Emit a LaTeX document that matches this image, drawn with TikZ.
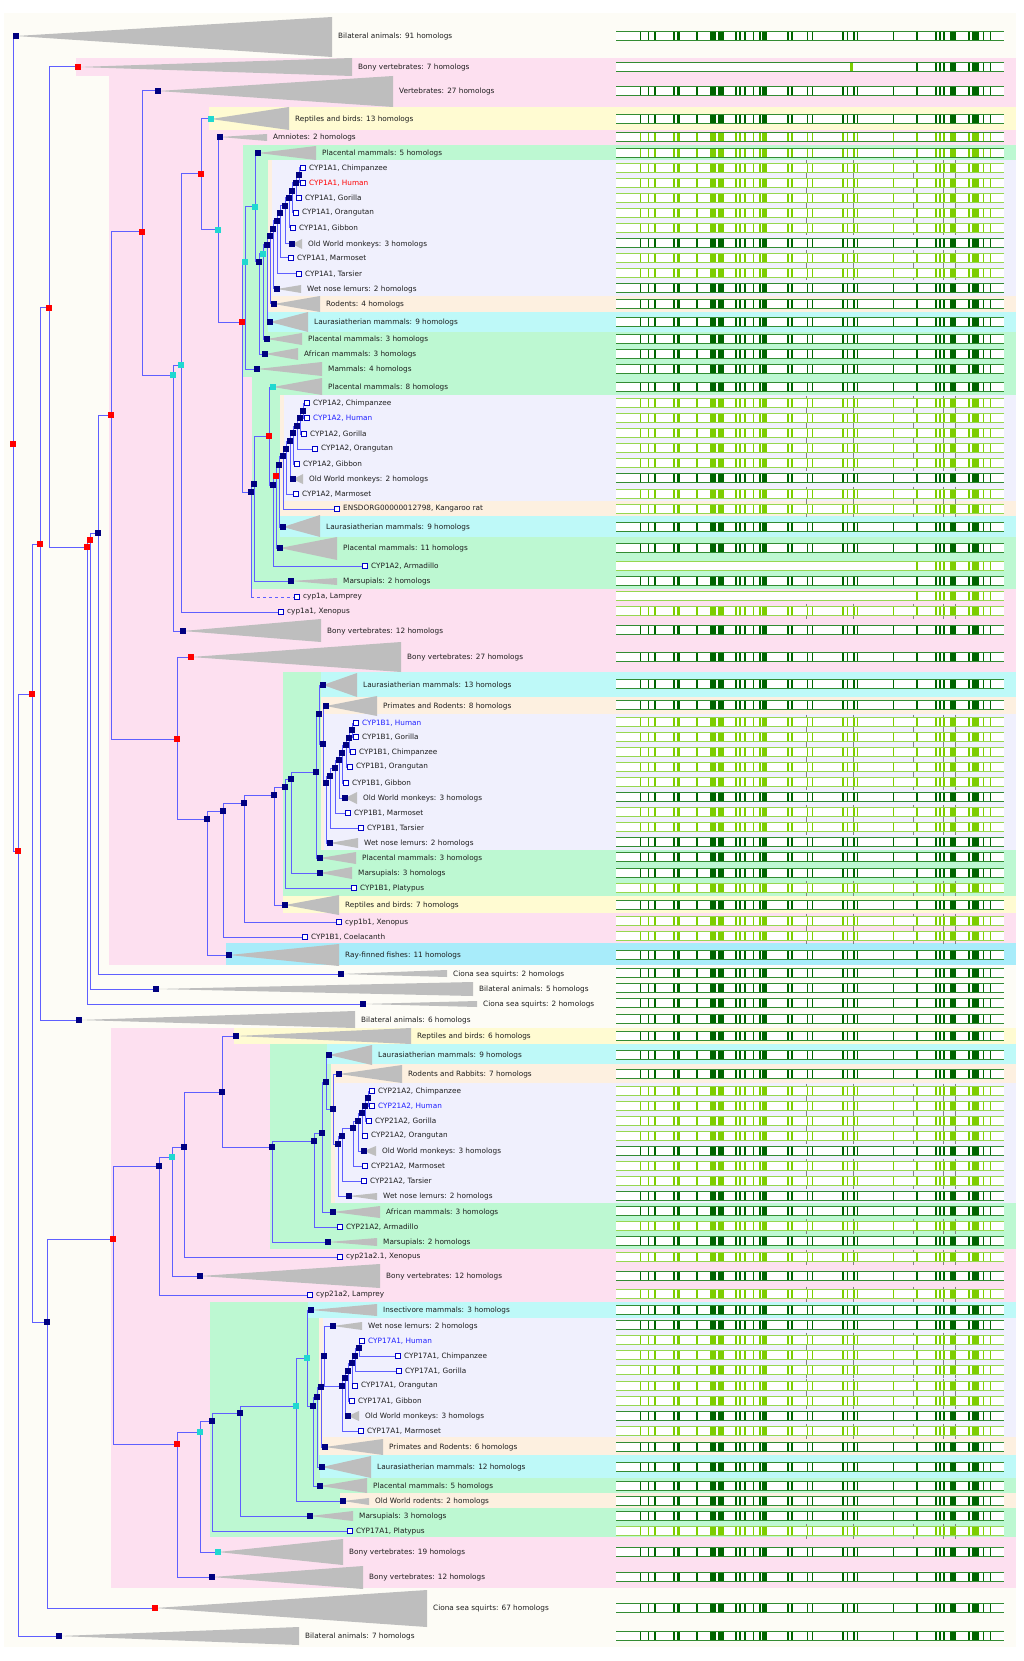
\documentclass[tikz,border=0pt]{standalone}
\usepackage{fontspec}
\setmainfont{DejaVu Sans}
\pgfdeclarelayer{back}
\pgfdeclarelayer{edges}
\pgfsetlayers{back,edges,main}
\definecolor{cream}{RGB}{253,252,246}
\definecolor{pinkbg}{RGB}{253,224,240}
\definecolor{greenbg}{RGB}{189,248,210}
\definecolor{lavbg}{RGB}{240,240,253}
\definecolor{peachbg}{RGB}{253,240,224}
\definecolor{yellowbg}{RGB}{255,251,210}
\definecolor{cyanbg}{RGB}{190,249,248}
\definecolor{raybg}{RGB}{168,236,250}
\definecolor{edgeblue}{RGB}{95,95,255}
\definecolor{navy}{RGB}{0,0,128}
\definecolor{nred}{RGB}{255,0,0}
\definecolor{ncyan}{RGB}{32,216,208}
\definecolor{leafblue}{RGB}{0,0,200}
\definecolor{trigrey}{RGB}{190,190,190}
\definecolor{labgrey}{RGB}{30,30,30}
\definecolor{hblue}{RGB}{30,30,255}
\definecolor{hred}{RGB}{255,0,0}
\definecolor{dgreen}{RGB}{0,100,0}
\definecolor{lgreen}{RGB}{125,205,0}
\definecolor{dframe}{RGB}{50,140,50}
\definecolor{lframe}{RGB}{150,215,80}
\definecolor{gaptick}{RGB}{130,130,130}
\newcommand{\myclade}[8]{%
  \fill[tri] (#2,#3) -- (#4,#5) -- (#4,#6) -- cycle;
  \node[#7] (#1) at (#2,#3) {};
  \node[lab] (#1-t) at (#4+6,#3) {#8};}
\newcommand{\myleaf}[5]{%
  \node[leaf] (#1) at (#2,#3) {};
  \node[lab,text=#5] (#1-t) at (#2+6,#3) {#4};}
\newcommand{\mynode}[4]{\node[#4] (#1) at (#2,#3) {};}
\newcommand{\myedges}[2]{\begin{pgfonlayer}{edges}\foreach \c in {#2}{\draw[edge] (#1.center) |- (\c.center);}\end{pgfonlayer}}
\def\blocks{640/1.2,648/1.2,654/1.5,673/2,677/2.5,696/2,710/6,718/6,735/1.5,739/1.5,744/1.5,753/1.2,759/1.5,762/5,787/1.5,791/1.5,807/1.2,812/1.2,842/1.5,847/1.2,853/1.5,857/1.2,893/1.2,916/1.5,935/2,939/1.5,943/1.5,950/6,968/1.5,972/7,983/1.2,990/1.2}
\def\rblocks{916/1.5,935/2,939/1.5,943/1.5,950/6,968/1.5,972/7,983/1.2,990/1.2}
\begin{document}
\begin{tikzpicture}[x=1pt,y=-1pt,
  dn/.style={rectangle,fill=navy,minimum size=5.5pt,inner sep=0pt},
  rn/.style={dn,fill=nred},
  cn/.style={dn,fill=ncyan},
  leaf/.style={rectangle,draw=leafblue,fill=white,minimum size=4.5pt,inner sep=0pt,line width=0.8pt},
  lab/.style={anchor=west,inner sep=0pt,font=\fontsize{7.3}{8}\selectfont,text=labgrey},
  edge/.style={draw=edgeblue,line width=1.0pt},
  tri/.style={fill=trigrey}]
\useasboundingbox (0,0) rectangle (1024,1661);
% ---------- backgrounds ----------
\begin{pgfonlayer}{back}
\fill[white] (0,0) rectangle (1024,1661);
\fill[cream] (4,13) rectangle (1016,1647);
\fill[pinkbg] (76,58) rectangle (1016,76);
\fill[pinkbg] (109,76) rectangle (1016,965);
\fill[yellowbg] (209,107) rectangle (1016,130);
\fill[greenbg] (243,145) rectangle (1016,377);
\fill[peachbg] (268,160) rectangle (1016,312);
\fill[lavbg] (272,160) rectangle (1016,296);
\fill[cyanbg] (268,312) rectangle (1016,332);
\fill[greenbg] (252,377) rectangle (1016,589);
\fill[peachbg] (280,395) rectangle (1016,516);
\fill[lavbg] (284,395) rectangle (1016,501);
\fill[cyanbg] (280,516) rectangle (1016,537);
\fill[greenbg] (283,672) rectangle (1016,896);
\fill[cyanbg] (321,672) rectangle (1016,697);
\fill[peachbg] (321,697) rectangle (1016,850);
\fill[lavbg] (324,714) rectangle (1016,850);
\fill[yellowbg] (283,896) rectangle (1016,913);
\fill[raybg] (226,943) rectangle (1016,965);
\fill[pinkbg] (111,1028) rectangle (1016,1588);
\fill[yellowbg] (234,1028) rectangle (1016,1044);
\fill[greenbg] (270,1044) rectangle (1016,1249);
\fill[cyanbg] (327,1044) rectangle (1016,1064);
\fill[peachbg] (331,1064) rectangle (1016,1203);
\fill[lavbg] (335,1083) rectangle (1016,1203);
\fill[greenbg] (210,1302) rectangle (1016,1537);
\fill[cyanbg] (308,1302) rectangle (1016,1318);
\fill[peachbg] (319,1318) rectangle (1016,1455);
\fill[lavbg] (323,1318) rectangle (1016,1437);
\fill[cyanbg] (320,1455) rectangle (1016,1478);
\fill[peachbg] (340,1493) rectangle (1016,1508);
% ---------- alignment ----------
\foreach \yy in {168,183,198,213,228,258,273,403,418,433,448,463,494,509,611,722,737,752,767,782,812,827,888,921,936,1091,1106,1121,1136,1166,1181,1226,1257,1294,1340,1355,1370,1386,1401,1431,1531}{
  \foreach \gx in {806,853,913,943,955}{\draw[gaptick,line width=0.6pt] (\gx,\yy-7.5) -- (\gx,\yy+7.5);}
  \fill[white] (616,\yy-4.5) rectangle (1004,\yy+4.5);
  \foreach \bx/\bw in \blocks {\fill[lgreen] (\bx,\yy-4.5) rectangle (\bx+\bw,\yy+4.5);}
  \draw[lframe,line width=0.9pt] (616,\yy-4.5) -- (1004,\yy-4.5) (616,\yy+4.5) -- (1004,\yy+4.5);
}
\foreach \yy in {566,596}{
  \fill[white] (616,\yy-4.5) rectangle (1004,\yy+4.5);
  \foreach \bx/\bw in \rblocks {\fill[lgreen] (\bx,\yy-4.5) rectangle (\bx+\bw,\yy+4.5);}
  \draw[lframe,line width=0.9pt] (616,\yy-4.5) -- (1004,\yy-4.5) (616,\yy+4.5) -- (1004,\yy+4.5);
}
\foreach \yy in {36,91,119,243,288,304,322,339,354,369,387,478,527,548,581,630,657,684,705,797,842,857,873,905,955,973,988,1003,1019,1036,1055,1074,1151,1196,1211,1241,1276,1310,1325,1416,1447,1467,1486,1501,1516,1552,1577,1608,1636}{
  \fill[white] (616,\yy-4.5) rectangle (1004,\yy+4.5);
  \foreach \bx/\bw in \blocks {\fill[dgreen] (\bx,\yy-4.5) rectangle (\bx+\bw,\yy+4.5);}
  \draw[dframe,line width=0.9pt] (616,\yy-4.5) -- (1004,\yy-4.5) (616,\yy+4.5) -- (1004,\yy+4.5);
}
\foreach \yy in {137,153}{
  \fill[white] (616,\yy-4.5) rectangle (1004,\yy+4.5);
  \foreach \bx/\bw in \blocks {\fill[lgreen] (\bx,\yy-4.5) rectangle (\bx+\bw,\yy+4.5);}
  \draw[dframe,line width=0.9pt] (616,\yy-4.5) -- (1004,\yy-4.5) (616,\yy+4.5) -- (1004,\yy+4.5);
}
\fill[white] (616,62.5) rectangle (1004,71.5);
\fill[lgreen] (850,62.5) rectangle (853,71.5);
\foreach \bx/\bw in \rblocks {\fill[dgreen] (\bx,62.5) rectangle (\bx+\bw,71.5);}
\draw[dframe,line width=0.9pt] (616,62.5) -- (1004,62.5) (616,71.5) -- (1004,71.5);
\end{pgfonlayer}
% ---------- collapsed clades ----------
\myclade{bil91}{16}{36}{332}{17}{57}{dn}{Bilateral animals: 91 homologs}
\myclade{bony7}{78}{67}{352}{58}{76}{rn}{Bony vertebrates: 7 homologs}
\myclade{vert27}{158}{91}{393}{76}{107}{dn}{Vertebrates: 27 homologs}
\myclade{rep13}{211}{119}{289}{107}{130}{cn}{Reptiles and birds: 13 homologs}
\myclade{amn2}{220}{137}{267}{134}{141}{dn}{Amniotes: 2 homologs}
\myclade{plac5}{258}{153}{316}{146}{160}{dn}{Placental mammals: 5 homologs}
\myclade{owm1}{292}{244}{302}{239}{249}{dn}{Old World monkeys: 3 homologs}
\myclade{wet1}{277}{289}{301}{285}{293}{dn}{Wet nose lemurs: 2 homologs}
\myclade{rod4}{274}{304}{320}{296}{312}{dn}{Rodents: 4 homologs}
\myclade{laura9}{270}{322}{308}{312}{332}{dn}{Laurasiatherian mammals: 9 homologs}
\myclade{plac3}{267}{339}{302}{333}{345}{dn}{Placental mammals: 3 homologs}
\myclade{afr3}{265}{354}{298}{348}{360}{dn}{African mammals: 3 homologs}
\myclade{mam4}{257}{369}{322}{362}{376}{dn}{Mammals: 4 homologs}
\myclade{plac8}{273}{387}{322}{378}{395}{cn}{Placental mammals: 8 homologs}
\myclade{owm2}{293}{479}{303}{474}{484}{dn}{Old World monkeys: 2 homologs}
\myclade{laura9b}{283}{527}{320}{515}{537}{dn}{Laurasiatherian mammals: 9 homologs}
\myclade{plac11}{280}{548}{337}{537}{560}{dn}{Placental mammals: 11 homologs}
\myclade{mars2}{291}{581}{337}{578}{585}{dn}{Marsupials: 2 homologs}
\myclade{bony12}{183}{631}{321}{619}{642}{dn}{Bony vertebrates: 12 homologs}
\myclade{bony27}{191}{657}{401}{642}{672}{rn}{Bony vertebrates: 27 homologs}
\myclade{laura13}{323}{685}{357}{673}{697}{dn}{Laurasiatherian mammals: 13 homologs}
\myclade{pr8}{326}{706}{377}{696}{716}{dn}{Primates and Rodents: 8 homologs}
\myclade{owm3}{345}{798}{357}{792}{804}{dn}{Old World monkeys: 3 homologs}
\myclade{wet2}{330}{843}{358}{838}{848}{dn}{Wet nose lemurs: 2 homologs}
\myclade{plac3b}{320}{858}{356}{852}{864}{dn}{Placental mammals: 3 homologs}
\myclade{mars3}{320}{873}{352}{867}{879}{dn}{Marsupials: 3 homologs}
\myclade{rep7}{285}{905}{339}{895}{915}{dn}{Reptiles and birds: 7 homologs}
\myclade{ray11}{229}{955}{339}{944}{966}{dn}{Ray-finned fishes: 11 homologs}
\myclade{cio2a}{341}{974}{447}{970}{977}{dn}{Ciona sea squirts: 2 homologs}
\myclade{bil5}{156}{989}{473}{982}{996}{dn}{Bilateral animals: 5 homologs}
\myclade{cio2b}{363}{1004}{477}{1001}{1007}{dn}{Ciona sea squirts: 2 homologs}
\myclade{bil6}{79}{1020}{355}{1011}{1028}{dn}{Bilateral animals: 6 homologs}
\myclade{rep6}{236}{1036}{411}{1028}{1044}{dn}{Reptiles and birds: 6 homologs}
\myclade{laura9c}{329}{1055}{372}{1045}{1065}{dn}{Laurasiatherian mammals: 9 homologs}
\myclade{rr7}{339}{1074}{402}{1065}{1083}{dn}{Rodents and Rabbits: 7 homologs}
\myclade{owm4}{364}{1151}{376}{1146}{1156}{dn}{Old World monkeys: 3 homologs}
\myclade{wet3}{349}{1196}{377}{1193}{1200}{dn}{Wet nose lemurs: 2 homologs}
\myclade{afr3b}{333}{1212}{380}{1206}{1218}{dn}{African mammals: 3 homologs}
\myclade{mars2b}{328}{1242}{377}{1238}{1246}{dn}{Marsupials: 2 homologs}
\myclade{bony12b}{200}{1276}{380}{1264}{1288}{dn}{Bony vertebrates: 12 homologs}
\myclade{ins3}{311}{1310}{377}{1304}{1316}{dn}{Insectivore mammals: 3 homologs}
\myclade{wet4}{333}{1326}{362}{1322}{1330}{dn}{Wet nose lemurs: 2 homologs}
\myclade{owm5}{348}{1416}{359}{1411}{1421}{dn}{Old World monkeys: 3 homologs}
\myclade{pr6}{325}{1447}{383}{1439}{1455}{dn}{Primates and Rodents: 6 homologs}
\myclade{laura12}{322}{1467}{371}{1456}{1478}{dn}{Laurasiatherian mammals: 12 homologs}
\myclade{plac5b}{320}{1486}{367}{1478}{1493}{dn}{Placental mammals: 5 homologs}
\myclade{owr2}{343}{1501}{369}{1498}{1505}{dn}{Old World rodents: 2 homologs}
\myclade{mars3b}{310}{1516}{353}{1511}{1521}{dn}{Marsupials: 3 homologs}
\myclade{bony19}{218}{1552}{343}{1539}{1565}{cn}{Bony vertebrates: 19 homologs}
\myclade{bony12c}{212}{1577}{363}{1566}{1589}{dn}{Bony vertebrates: 12 homologs}
\myclade{cio67}{155}{1608}{427}{1590}{1627}{rn}{Ciona sea squirts: 67 homologs}
\myclade{bil7}{59}{1636}{299}{1627}{1645}{dn}{Bilateral animals: 7 homologs}
% ---------- leaves ----------
\myleaf{chi1}{303}{168}{CYP1A1, Chimpanzee}{labgrey}
\myleaf{hum1}{303}{183}{CYP1A1, Human}{hred}
\myleaf{gor1}{299}{198}{CYP1A1, Gorilla}{labgrey}
\myleaf{ora1}{296}{213}{CYP1A1, Orangutan}{labgrey}
\myleaf{gib1}{293}{228}{CYP1A1, Gibbon}{labgrey}
\myleaf{mar1}{291}{258}{CYP1A1, Marmoset}{labgrey}
\myleaf{tar1}{299}{274}{CYP1A1, Tarsier}{labgrey}
\myleaf{chi2}{307}{403}{CYP1A2, Chimpanzee}{labgrey}
\myleaf{hum2}{307}{418}{CYP1A2, Human}{hblue}
\myleaf{gor2}{304}{434}{CYP1A2, Gorilla}{labgrey}
\myleaf{ora2}{315}{449}{CYP1A2, Orangutan}{labgrey}
\myleaf{gib2}{297}{464}{CYP1A2, Gibbon}{labgrey}
\myleaf{mar2}{296}{494}{CYP1A2, Marmoset}{labgrey}
\myleaf{kang}{337}{509}{ENSDORG00000012798, Kangaroo rat}{labgrey}
\myleaf{arm1}{365}{566}{CYP1A2, Armadillo}{labgrey}
\myleaf{lam1a}{297}{597}{cyp1a, Lamprey}{labgrey}
\myleaf{xen1a1}{281}{612}{cyp1a1, Xenopus}{labgrey}
\myleaf{hum3}{356}{723}{CYP1B1, Human}{hblue}
\myleaf{gor3}{356}{737}{CYP1B1, Gorilla}{labgrey}
\myleaf{chi3}{353}{752}{CYP1B1, Chimpanzee}{labgrey}
\myleaf{ora3}{350}{767}{CYP1B1, Orangutan}{labgrey}
\myleaf{gib3}{346}{783}{CYP1B1, Gibbon}{labgrey}
\myleaf{mar3}{348}{813}{CYP1B1, Marmoset}{labgrey}
\myleaf{tar2}{361}{828}{CYP1B1, Tarsier}{labgrey}
\myleaf{plat1}{354}{888}{CYP1B1, Platypus}{labgrey}
\myleaf{xen1b1}{339}{922}{cyp1b1, Xenopus}{labgrey}
\myleaf{coel}{305}{937}{CYP1B1, Coelacanth}{labgrey}
\myleaf{chi4}{372}{1091}{CYP21A2, Chimpanzee}{labgrey}
\myleaf{hum4}{372}{1106}{CYP21A2, Human}{hblue}
\myleaf{gor4}{369}{1121}{CYP21A2, Gorilla}{labgrey}
\myleaf{ora4}{365}{1136}{CYP21A2, Orangutan}{labgrey}
\myleaf{mar4}{365}{1166}{CYP21A2, Marmoset}{labgrey}
\myleaf{tar3}{364}{1181}{CYP21A2, Tarsier}{labgrey}
\myleaf{arm2}{340}{1227}{CYP21A2, Armadillo}{labgrey}
\myleaf{xen21}{340}{1257}{cyp21a2.1, Xenopus}{labgrey}
\myleaf{lam21}{310}{1295}{cyp21a2, Lamprey}{labgrey}
\myleaf{hum5}{362}{1341}{CYP17A1, Human}{hblue}
\myleaf{chi5}{398}{1356}{CYP17A1, Chimpanzee}{labgrey}
\myleaf{gor5}{399}{1371}{CYP17A1, Gorilla}{labgrey}
\myleaf{ora5}{355}{1386}{CYP17A1, Orangutan}{labgrey}
\myleaf{gib5}{352}{1401}{CYP17A1, Gibbon}{labgrey}
\myleaf{mar5}{361}{1431}{CYP17A1, Marmoset}{labgrey}
\myleaf{plat2}{350}{1531}{CYP17A1, Platypus}{labgrey}
% ---------- internal nodes ----------
\mynode{root}{13}{444}{rn}\mynode{E}{18}{851}{rn}\mynode{C}{32}{694}{rn}\mynode{B}{40}{544}{rn}
\mynode{A}{49}{308}{rn}\mynode{F}{87}{547}{rn}\mynode{G}{90}{540}{rn}\mynode{H}{98}{533}{dn}
\mynode{I}{111}{415}{rn}\mynode{J}{142}{232}{rn}\mynode{L}{173}{375}{cn}\mynode{M}{181}{365}{cn}
\mynode{N}{201}{174}{rn}\mynode{O}{218}{230}{cn}\mynode{P}{242}{322}{rn}\mynode{Q}{245}{262}{cn}
\mynode{R}{255}{207}{cn}\mynode{T}{259}{262}{dn}\mynode{U}{263}{254}{cn}
\mynode{a10}{267}{245}{dn}\mynode{a9}{270}{236}{dn}\mynode{a8}{273}{229}{dn}\mynode{a7}{277}{221}{dn}
\mynode{a6}{280}{213}{dn}\mynode{a5}{285}{206}{dn}\mynode{a4}{289}{198}{dn}\mynode{a3}{292}{191}{dn}
\mynode{a2}{296}{183}{dn}\mynode{a1}{299}{175}{dn}
\mynode{S}{251}{492}{dn}\mynode{V}{254}{484}{dn}\mynode{W}{269}{436}{rn}\mynode{Y}{273}{485}{dn}
\mynode{Z}{276}{476}{rn}\mynode{b8}{279}{465}{dn}\mynode{b7}{283}{456}{dn}\mynode{b6}{286}{449}{dn}
\mynode{b5}{290}{441}{dn}\mynode{b4}{293}{433}{dn}\mynode{b3}{297}{426}{dn}\mynode{b2}{300}{418}{dn}
\mynode{b1}{303}{411}{dn}
\mynode{K}{177}{739}{rn}\mynode{AA}{207}{819}{dn}\mynode{BB}{223}{811}{dn}\mynode{CC}{244}{803}{dn}
\mynode{DD}{274}{795}{dn}\mynode{EE}{285}{787}{dn}\mynode{FF}{291}{779}{dn}\mynode{GG}{316}{772}{dn}
\mynode{HH}{319}{714}{dn}\mynode{II}{323}{744}{dn}\mynode{JJ}{326}{783}{dn}\mynode{KK}{330}{776}{dn}
\mynode{LL}{335}{768}{dn}\mynode{MM}{339}{760}{dn}\mynode{NN}{342}{753}{dn}\mynode{OO}{346}{745}{dn}
\mynode{PP}{349}{738}{dn}\mynode{QQ}{352}{730}{dn}
\mynode{D}{47}{1322}{dn}\mynode{RR}{113}{1239}{rn}\mynode{SS}{159}{1166}{dn}\mynode{UU}{172}{1157}{cn}
\mynode{VV}{184}{1147}{dn}\mynode{WW}{222}{1092}{dn}\mynode{XX}{272}{1147}{dn}\mynode{YY}{314}{1141}{dn}
\mynode{ZZ}{322}{1133}{dn}\mynode{AB}{326}{1082}{dn}\mynode{AC}{333}{1109}{dn}\mynode{AD}{338}{1144}{dn}
\mynode{AE}{342}{1136}{dn}\mynode{c5}{353}{1128}{dn}\mynode{c4}{358}{1121}{dn}\mynode{c3}{362}{1113}{dn}
\mynode{c2}{365}{1106}{dn}\mynode{c1}{368}{1098}{dn}
\mynode{TT}{177}{1444}{rn}\mynode{UV}{200}{1432}{cn}\mynode{W2}{212}{1421}{dn}\mynode{X2}{240}{1413}{dn}
\mynode{Y2}{296}{1406}{cn}\mynode{Z2}{307}{1358}{cn}\mynode{A3}{313}{1406}{dn}\mynode{B3}{317}{1397}{dn}
\mynode{C3}{321}{1387}{dn}\mynode{D3}{324}{1356}{dn}\mynode{d6}{342}{1386}{dn}\mynode{d5}{345}{1378}{dn}
\mynode{d4}{348}{1371}{dn}\mynode{d3}{352}{1363}{dn}\mynode{d2}{355}{1356}{dn}\mynode{d1}{359}{1348}{dn}
% ---------- edges ----------
\myedges{root}{bil91,E}\myedges{E}{C,bil7}\myedges{C}{B,D}\myedges{B}{A,bil6}
\myedges{A}{bony7,F}\myedges{F}{G,cio2b}\myedges{G}{H,bil5}\myedges{H}{I,cio2a}
\myedges{I}{J,K}\myedges{J}{vert27,L}\myedges{L}{M,bony12}\myedges{M}{N,xen1a1}
\myedges{N}{rep13,O}\myedges{O}{amn2,P}\myedges{P}{Q,S}\myedges{Q}{R,mam4}
\myedges{R}{plac5,T}\myedges{T}{U,afr3}\myedges{U}{a10,plac3}\myedges{a10}{a9,laura9}
\myedges{a9}{a8,rod4}\myedges{a8}{a7,wet1}\myedges{a7}{a6,tar1}\myedges{a6}{a5,mar1}
\myedges{a5}{a4,owm1}\myedges{a4}{a3,gib1}\myedges{a3}{a2,ora1}\myedges{a2}{a1,gor1}
\myedges{a1}{chi1,hum1}
\myedges{S}{V}\myedges{V}{W,mars2}\myedges{W}{plac8,Y}\myedges{Y}{Z,arm1}
\myedges{Z}{b8,plac11}\myedges{b8}{b7,laura9b}\myedges{b7}{b6,kang}\myedges{b6}{b5,mar2}
\myedges{b5}{b4,owm2}\myedges{b4}{b3,gib2}\myedges{b3}{b2,ora2}\myedges{b2}{b1,gor2}
\myedges{b1}{chi2,hum2}
\begin{pgfonlayer}{edges}
\draw[edge] (S.center) -- (S.center |- lam1a.center);
\draw[edge,dashed] (S.center |- lam1a.center) -- (lam1a.center);
\end{pgfonlayer}
\myedges{K}{bony27,AA}\myedges{AA}{BB,ray11}\myedges{BB}{CC,coel}\myedges{CC}{DD,xen1b1}
\myedges{DD}{EE,rep7}\myedges{EE}{FF,plat1}\myedges{FF}{GG,mars3}\myedges{GG}{HH,plac3b}
\myedges{HH}{laura13,II}\myedges{II}{pr8,JJ}\myedges{JJ}{KK,wet2}\myedges{KK}{LL,tar2}
\myedges{LL}{MM,mar3}\myedges{MM}{NN,owm3}\myedges{NN}{OO,gib3}\myedges{OO}{PP,ora3}
\myedges{PP}{QQ,chi3}\myedges{QQ}{hum3,gor3}
\myedges{D}{RR,cio67}\myedges{RR}{SS,TT}\myedges{SS}{UU,lam21}\myedges{UU}{VV,bony12b}
\myedges{VV}{WW,xen21}\myedges{WW}{rep6,XX}\myedges{XX}{YY,mars2b}\myedges{YY}{ZZ,arm2}
\myedges{ZZ}{AB,afr3b}\myedges{AB}{laura9c,AC}\myedges{AC}{rr7,AD}\myedges{AD}{AE,wet3}
\myedges{AE}{c5,tar3}\myedges{c5}{c4,mar4}\myedges{c4}{c3,owm4}\myedges{c3}{c2,ora4}
\myedges{c2}{c1,gor4}\myedges{c1}{chi4,hum4}
\myedges{TT}{UV,bony12c}\myedges{UV}{W2,bony19}\myedges{W2}{X2,plat2}\myedges{X2}{Y2,mars3b}
\myedges{Y2}{Z2,owr2}\myedges{Z2}{ins3,A3}\myedges{A3}{B3,plac5b}\myedges{B3}{C3,laura12}
\myedges{C3}{D3,pr6}\myedges{D3}{wet4,d6}\myedges{d6}{d5,mar5}\myedges{d5}{d4,owm5}
\myedges{d4}{d3,gib5}\myedges{d3}{d2,ora5}\myedges{d2}{d1,gor5}\myedges{d1}{hum5,chi5}
\end{tikzpicture}
\end{document}
